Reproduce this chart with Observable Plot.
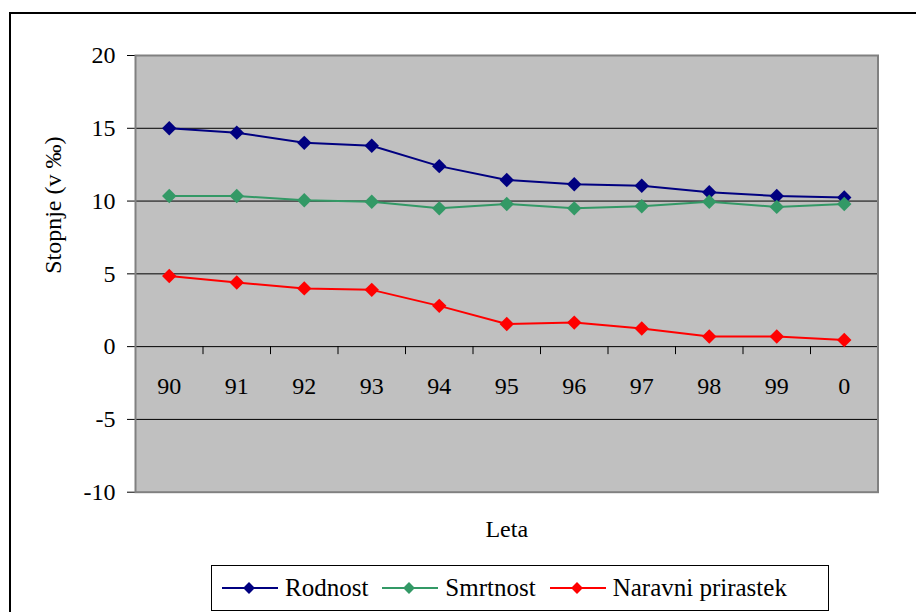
<!DOCTYPE html>
<html>
<head>
<meta charset="utf-8">
<script src="https://cdn.jsdelivr.net/npm/d3@7"></script>
<script src="https://cdn.jsdelivr.net/npm/@observablehq/plot@0.6"></script>
<style>
  html, body { margin: 0; padding: 0; background: #fff; overflow: hidden; }
  #wrap { position: relative; width: 916px; height: 612px; overflow: hidden; }
  #frame { position: absolute; left: 9px; top: 12px; width: 1000px; height: 700px; border: 2.5px solid #000; box-sizing: border-box; }
  #chart { position: absolute; left: 0; top: 0; }
  #legend { position: absolute; left: 211px; top: 565px; width: 618px; height: 46px; border: 1px solid #000; box-sizing: border-box;
            display: flex; align-items: center; padding-left: 10px; background: #fff; white-space: nowrap;
            font-family: 'Liberation Serif', 'Times New Roman', Times, Tinos, 'DejaVu Serif', serif; font-size: 25px; color: #000; }
  .item { display: flex; align-items: center; margin-right: 14px; white-space: nowrap; flex: none; }
  .item svg { margin-right: 7px; }
  #chart svg, #chart svg text { font-family: 'Liberation Serif', 'Times New Roman', Times, Tinos, 'DejaVu Serif', serif; }
</style>
</head>
<body>
<div id="wrap">
  <div id="frame"></div>
  <div id="chart"></div>
  <div id="legend"></div>
</div>
<script>
const years = ["90", "91", "92", "93", "94", "95", "96", "97", "98", "99", "0"];
const seriesNames = ["Rodnost", "Smrtnost", "Naravni prirastek"];
const seriesColors = ["#000080", "#339966", "#ff0000"];
const rodnost  = [15.0, 14.7, 14.0, 13.8, 12.4, 11.45, 11.15, 11.05, 10.6, 10.35, 10.25];
const smrtnost = [10.35, 10.35, 10.05, 9.95, 9.5, 9.8, 9.5, 9.65, 9.95, 9.6, 9.8];
const naravni  = [4.85, 4.4, 4.0, 3.9, 2.8, 1.55, 1.65, 1.25, 0.7, 0.7, 0.45];
const yTicks = [-10, -5, 0, 5, 10, 15, 20];
const gridLines = [-5, 0, 5, 10, 15];
const yLabel = "Stopnje (v ‰)";
const xLabel = "Leta";

const seriesValues = [rodnost, smrtnost, naravni];
const rows = seriesNames.flatMap((s, k) => seriesValues[k].map((v, i) => ({series: s, i, value: v})));
const boundaries = d3.range(1, years.length).map(i => i - 0.5);

const chart = Plot.plot({
  width: 916,
  height: 560,
  marginLeft: 135,
  marginRight: 38.5,
  marginTop: 55,
  marginBottom: 68.3,
  x: {type: "linear", domain: [-0.5, years.length - 0.5], axis: null},
  y: {domain: [-10, 20], axis: null},
  color: {domain: seriesNames, range: seriesColors},
  style: {fontSize: "24px", background: "transparent", color: "#000", overflow: "visible"},
  marks: [
    Plot.frame({fill: "#c0c0c0"}),
    Plot.ruleY(gridLines, {stroke: "#000", strokeWidth: 1}),
    Plot.ruleX(boundaries, {x: d => d, y1: 0, y2: -0.55, stroke: "#000", strokeWidth: 1}),
    Plot.axisY({ticks: yTicks, tickSize: 8, tickPadding: 12, label: null, tickFormat: d => String(d), stroke: "#000"}),
    Plot.text(years, {x: (d, i) => i, y: 0, dy: 40, text: d => d, fill: "#000"}),
    Plot.text([xLabel], {frameAnchor: "bottom", dy: 45, text: d => d, fill: "#000"}),
    Plot.text([yLabel], {frameAnchor: "left", dx: -82, rotate: -90, text: d => d, fill: "#000"}),
    Plot.line(rows, {x: "i", y: "value", stroke: "series", strokeWidth: 2}),
    Plot.dot(rows, {x: "i", y: "value", fill: "series", symbol: "diamond2", r: 6.5}),
    Plot.frame({stroke: "#808080", strokeWidth: 2})
  ]
});
document.getElementById("chart").appendChild(chart);

// legend
const legend = d3.select("#legend");
seriesNames.forEach((name, k) => {
  const item = legend.append("div").attr("class", "item");
  const svg = item.append("svg").attr("width", 56).attr("height", 20);
  svg.append("line").attr("x1", 0).attr("x2", 56).attr("y1", 10).attr("y2", 10)
    .attr("stroke", seriesColors[k]).attr("stroke-width", 2);
  svg.append("path").attr("transform", "translate(27,10)")
    .attr("d", d3.symbol(d3.symbolDiamond2, 90)())
    .attr("fill", seriesColors[k]);
  item.append("span").text(name);
});
</script>
</body>
</html>
